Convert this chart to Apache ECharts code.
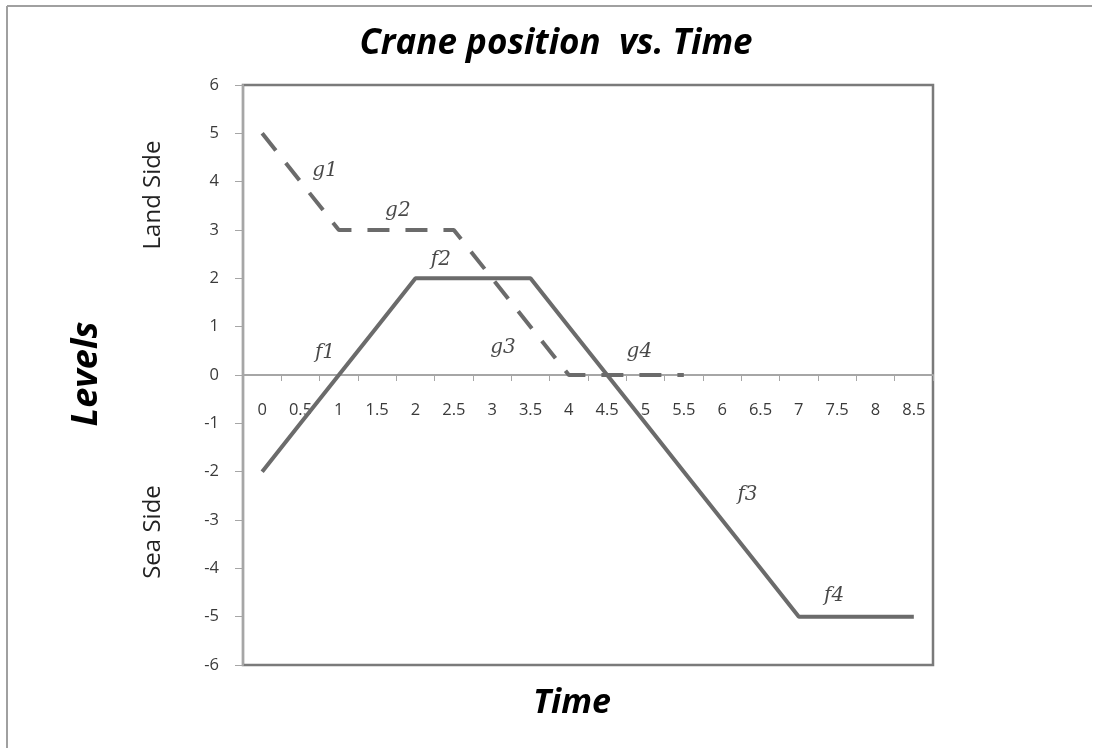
<!DOCTYPE html>
<html>
<head>
<meta charset="utf-8">
<script src="https://cdn.jsdelivr.net/npm/echarts@6/dist/echarts.min.js"></script>
<style>html,body{margin:0;padding:0;background:#fff;}#c{width:1101px;height:748px;}</style>
</head>
<body>
<div id="c"></div>
<script>
const timeCategories = ['0','0.5','1','1.5','2','2.5','3','3.5','4','4.5','5','5.5','6','6.5','7','7.5','8','8.5'];
const fValues = [-2,-1,0,1,2,2,2,2,1,0,-1,-2,-3,-4,-5,-5,-5,-5];
const gValues = [5,4,3,3,3,3,2,1,0,0,0,0,null,null,null,null,null,null];
const yTicks = {min:-6, max:6, interval:1};
// curve labels: [time, level, text]
const curveLabels = [
  [0.82, 4.22, 'g1'], [1.77, 3.39, 'g2'], [2.33, 2.38, 'f2'], [0.82, 0.46, 'f1'],
  [3.14, 0.56, 'g3'], [4.92, 0.48, 'g4'], [6.33, -2.48, 'f3'], [7.46, -4.57, 'f4']
];

const gridTop = 85, gridBottom = 83, chartH = 748;
const plotH = chartH - gridTop - gridBottom;
const zeroOffset = -plotH * (0 - yTicks.min) / (yTicks.max - yTicks.min);

const chart = echarts.init(document.getElementById('c'), null, {renderer:'canvas'});
const lineColor = '#6b6b6b';
chart.setOption({
  backgroundColor:'#fff',
  animation:false,
  title:{text:'Crane position  vs. Time', left:551, top:22, textAlign:'center',
    textStyle:{fontFamily:'Open Sans', fontStyle:'italic', fontWeight:'bold', fontSize:35, color:'#000'}},
  grid:{left:243, right:168, top:gridTop, bottom:gridBottom, show:true, borderColor:'#7a7a7a', borderWidth:2.5},
  xAxis:[{
    type:'category', data:timeCategories, boundaryGap:true, position:'bottom', offset:zeroOffset,
    axisLine:{onZero:false, lineStyle:{color:'#a6a6a6', width:2}},
    axisTick:{show:true, inside:false, length:6, lineStyle:{color:'#a6a6a6', width:1}},
    axisLabel:{margin:27, fontFamily:'Open Sans', fontSize:16.5, color:'#3a3a3a', interval:0},
    splitLine:{show:false}
  },{
    type:'value', min:-0.25, max:8.75, show:false, axisLine:{onZero:false}
  }],
  yAxis:{
    type:'value', min:yTicks.min, max:yTicks.max, interval:yTicks.interval,
    axisLine:{show:true, onZero:false, lineStyle:{color:'#a6a6a6', width:2}},
    axisTick:{show:true, inside:false, length:8, lineStyle:{color:'#a6a6a6'}},
    axisLabel:{margin:24, fontFamily:'Open Sans', fontSize:16.5, color:'#3a3a3a'},
    splitLine:{show:false}
  },
  series:[
    {type:'line', data:gValues, symbol:'none', connectNulls:false,
     lineStyle:{color:lineColor, width:4, type:[22,16], cap:'butt'}},
    {type:'line', data:fValues, symbol:'none',
     lineStyle:{color:lineColor, width:4}},
    {type:'scatter', xAxisIndex:1, symbolSize:0, data:curveLabels.map(d=>({value:[d[0],d[1]], name:d[2]})),
     label:{show:true, position:'inside', formatter:p=>p.name,
       fontFamily:'DejaVu Serif', fontStyle:'italic', fontSize:20, color:'#1a1a1a'}}
  ],
  graphic:[
    {type:'line', shape:{x1:7, y1:6, x2:1092, y2:6}, style:{stroke:'#a0a0a0', lineWidth:2}},
    {type:'line', shape:{x1:7, y1:6, x2:7, y2:748}, style:{stroke:'#a0a0a0', lineWidth:2}},
    {type:'text', x:153, y:195, rotation:Math.PI/2,
     style:{text:'Land Side', align:'center', verticalAlign:'middle', fontFamily:'Open Sans', fontSize:24, fill:'#222'}},
    {type:'text', x:153, y:532, rotation:Math.PI/2,
     style:{text:'Sea Side', align:'center', verticalAlign:'middle', fontFamily:'Open Sans', fontSize:24, fill:'#222'}},
    {type:'text', x:87, y:374, rotation:Math.PI/2,
     style:{text:'Levels', align:'center', verticalAlign:'middle', fontFamily:'Open Sans', fontStyle:'italic', fontWeight:'bold', fontSize:36, fill:'#000'}},
    {type:'text', x:572, y:703,
     style:{text:'Time', align:'center', verticalAlign:'middle', fontFamily:'Open Sans', fontStyle:'italic', fontWeight:'bold', fontSize:34, fill:'#000'}}
  ]
});
</script>
</body>
</html>
